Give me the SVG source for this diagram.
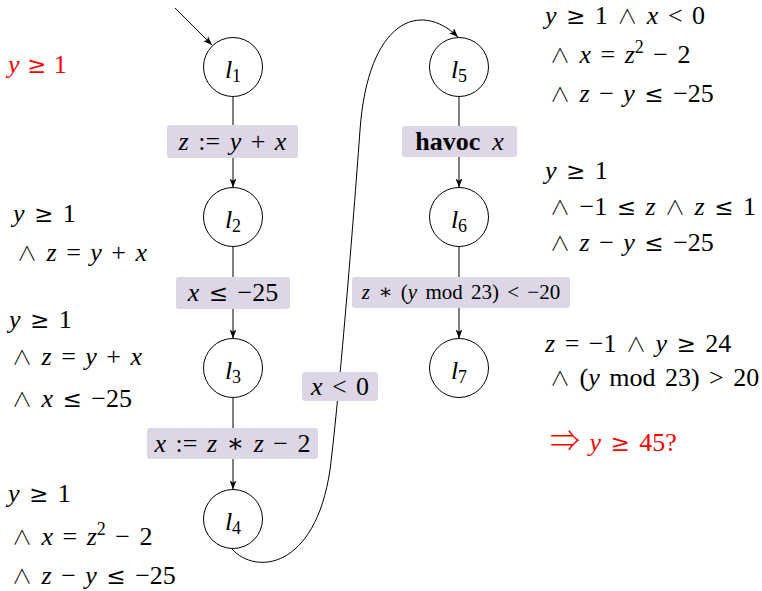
<svg xmlns="http://www.w3.org/2000/svg" width="762" height="591" viewBox="0 0 762 591">
<style>
text { font-family: "Liberation Serif","DejaVu Serif",serif; font-size: 26px; fill: #000; word-spacing: 3px; }
.i { font-style: italic; }
.o { font-family: "DejaVu Serif",serif; font-size: 23px; }
.w { font-family: "Noto Sans CJK JP","DejaVu Sans",sans-serif; font-weight: 300; font-size: 20px; }
.red { fill: #ff0000; }
.sub { font-size: 18px; }
.lab { text-anchor: middle; }
.node circle { fill: #fff; stroke: #000; stroke-width: 1; }
.edge { fill: none; stroke: #000; stroke-width: 1; marker-end: url(#arr); }
.box { fill: #ddd6e6; stroke: none; }
</style>
<defs>
<marker id="arr" markerWidth="10" markerHeight="8" refX="9" refY="4" orient="auto" markerUnits="userSpaceOnUse">
<path d="M0,0.6 L9,4 L0,7.4 L2.2,4 z" fill="#000"/>
</marker>
</defs>
<rect width="762" height="591" fill="#fff"/>

<g id="edges">
<line class="edge" x1="175" y1="8" x2="212" y2="45"/>
<line class="edge" x1="233" y1="96.5" x2="233" y2="187.5"/>
<line class="edge" x1="233" y1="246.5" x2="233" y2="338.5"/>
<line class="edge" x1="233" y1="397.5" x2="233" y2="489.5"/>
<line class="edge" x1="459" y1="96.5" x2="459" y2="187.5"/>
<line class="edge" x1="459" y1="246.5" x2="459" y2="338.5"/>
<path class="edge" d="M232,549 C255,575 315,570 330,470 C340,390 355,200 360,130 C368,20 420,0 458,37"/>
<rect class="box" x="167" y="125" width="131" height="33" rx="3"/>
<text class="lab" x="232.5" y="150"><tspan class="i">z</tspan> := <tspan class="i">y</tspan> + <tspan class="i">x</tspan></text>
<rect class="box" x="176" y="277" width="114" height="32" rx="3"/>
<text class="lab" x="233" y="301"><tspan class="i">x</tspan> <tspan class="o">≤</tspan> −25</text>
<rect class="box" x="147" y="428" width="171" height="31" rx="3"/>
<text class="lab" x="232.5" y="452"><tspan class="i">x</tspan> := <tspan class="i">z</tspan> ∗ <tspan class="i">z</tspan> − 2</text>
<rect class="box" x="302" y="372" width="76" height="29" rx="3"/>
<text class="lab" x="340" y="395"><tspan class="i">x</tspan> &lt; 0</text>
<rect class="box" x="402" y="126" width="115" height="31" rx="3"/>
<text class="lab" x="459.5" y="150"><tspan font-weight="bold">havoc</tspan><tspan class="i" dx="12">x</tspan></text>
<rect class="box" x="352" y="277" width="218" height="31" rx="3"/>
<text class="lab" x="461" y="299" style="font-size:21px;word-spacing:3px"><tspan class="i">z</tspan> ∗ (<tspan class="i">y</tspan> mod 23) &lt; −20</text>
</g>

<g id="l1" class="node"><circle cx="233" cy="67" r="29.5"/><text class="lab" x="233" y="78"><tspan class="i">l</tspan><tspan class="sub" dy="4">1</tspan></text></g>
<g id="l2" class="node"><circle cx="233" cy="217" r="29.5"/><text class="lab" x="233" y="228"><tspan class="i">l</tspan><tspan class="sub" dy="4">2</tspan></text></g>
<g id="l3" class="node"><circle cx="233" cy="368" r="29.5"/><text class="lab" x="233" y="379"><tspan class="i">l</tspan><tspan class="sub" dy="4">3</tspan></text></g>
<g id="l4" class="node"><circle cx="233" cy="519" r="29.5"/><text class="lab" x="233" y="530"><tspan class="i">l</tspan><tspan class="sub" dy="4">4</tspan></text></g>
<g id="l5" class="node"><circle cx="459" cy="67" r="29.5"/><text class="lab" x="459" y="78"><tspan class="i">l</tspan><tspan class="sub" dy="4">5</tspan></text></g>
<g id="l6" class="node"><circle cx="459" cy="217" r="29.5"/><text class="lab" x="459" y="228"><tspan class="i">l</tspan><tspan class="sub" dy="4">6</tspan></text></g>
<g id="l7" class="node"><circle cx="459" cy="368" r="29.5"/><text class="lab" x="459" y="379"><tspan class="i">l</tspan><tspan class="sub" dy="4">7</tspan></text></g>

<g id="annotations">
<text class="red" x="8" y="73" style="word-spacing:1px"><tspan class="i">y</tspan> <tspan class="o">≥</tspan> 1</text>

<text x="13" y="222"><tspan class="i">y</tspan> <tspan class="o">≥</tspan> 1</text>
<text x="17" y="261"><tspan class="w">∧</tspan> <tspan class="i">z</tspan> = <tspan class="i">y</tspan> + <tspan class="i">x</tspan></text>

<text x="9" y="328"><tspan class="i">y</tspan> <tspan class="o">≥</tspan> 1</text>
<text x="12" y="365"><tspan class="w">∧</tspan> <tspan class="i">z</tspan> = <tspan class="i">y</tspan> + <tspan class="i">x</tspan></text>
<text x="12" y="407"><tspan class="w">∧</tspan> <tspan class="i">x</tspan> <tspan class="o">≤</tspan> −25</text>

<text x="8" y="502"><tspan class="i">y</tspan> <tspan class="o">≥</tspan> 1</text>
<text x="12" y="545"><tspan class="w">∧</tspan> <tspan class="i">x</tspan> = <tspan class="i">z</tspan><tspan class="sub" dy="-10">2</tspan><tspan dy="10"> − 2</tspan></text>
<text x="12" y="584"><tspan class="w">∧</tspan> <tspan class="i">z</tspan> − <tspan class="i">y</tspan> <tspan class="o">≤</tspan> −25</text>

<text x="545" y="24"><tspan class="i">y</tspan> <tspan class="o">≥</tspan> 1 <tspan class="w">∧</tspan> <tspan class="i">x</tspan> &lt; 0</text>
<text x="550" y="63"><tspan class="w">∧</tspan> <tspan class="i">x</tspan> = <tspan class="i">z</tspan><tspan class="sub" dy="-10">2</tspan><tspan dy="10"> − 2</tspan></text>
<text x="550" y="102"><tspan class="w">∧</tspan> <tspan class="i">z</tspan> − <tspan class="i">y</tspan> <tspan class="o">≤</tspan> −25</text>

<text x="545" y="179"><tspan class="i">y</tspan> <tspan class="o">≥</tspan> 1</text>
<text x="550" y="215"><tspan class="w">∧</tspan> −1 <tspan class="o">≤</tspan> <tspan class="i">z</tspan> <tspan class="w">∧</tspan> <tspan class="i">z</tspan> <tspan class="o">≤</tspan> 1</text>
<text x="550" y="251"><tspan class="w">∧</tspan> <tspan class="i">z</tspan> − <tspan class="i">y</tspan> <tspan class="o">≤</tspan> −25</text>

<text x="545" y="352"><tspan class="i">z</tspan> = −1 <tspan class="w">∧</tspan> <tspan class="i">y</tspan> <tspan class="o">≥</tspan> 24</text>
<text x="550" y="386"><tspan class="w">∧</tspan> (<tspan class="i">y</tspan> mod 23) &gt; 20</text>
<text class="red" x="550" y="451"><tspan class="w" style="font-size:30px">⇒</tspan> <tspan class="i">y</tspan> <tspan class="o">≥</tspan> 45?</text>
</g>
</svg>
